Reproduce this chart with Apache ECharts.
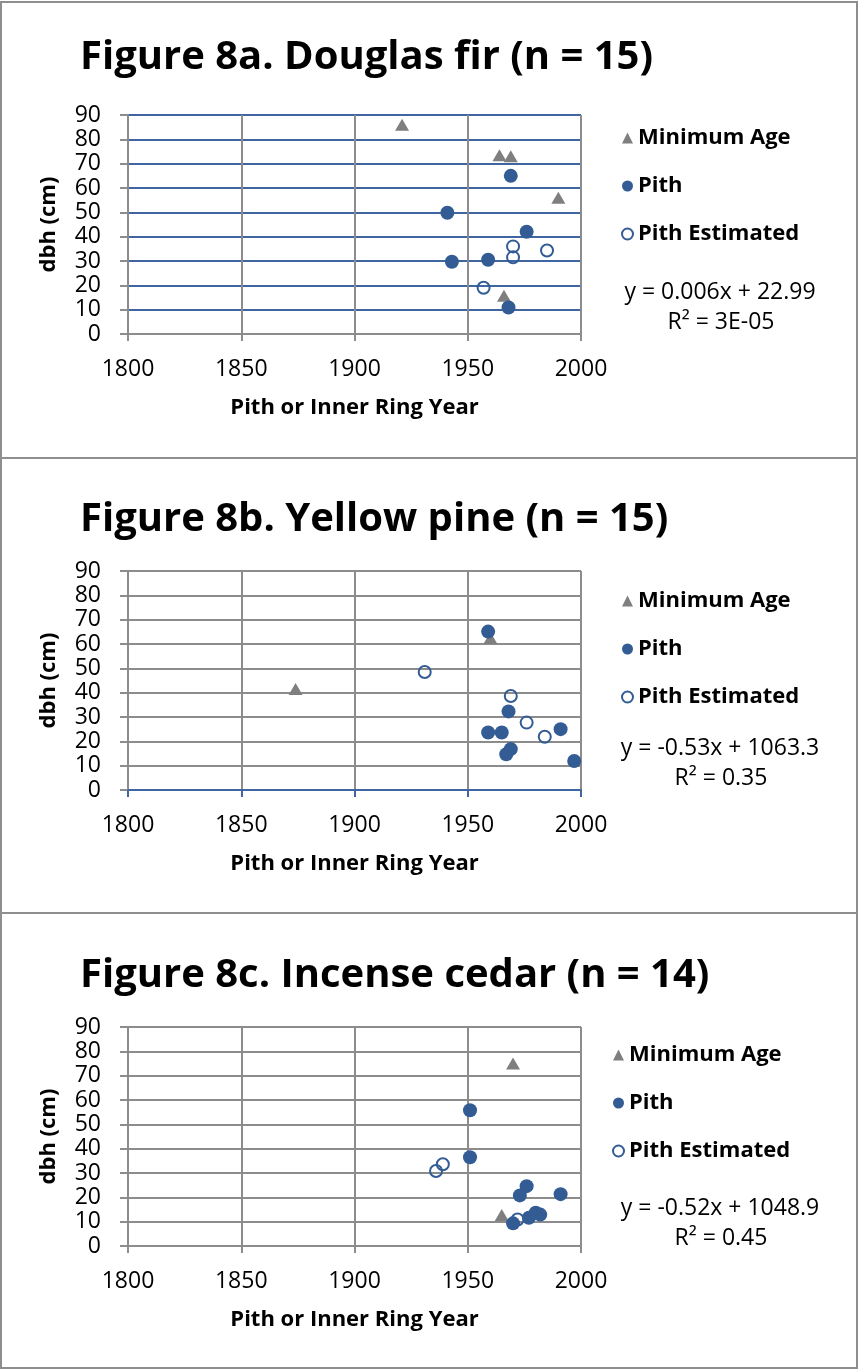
<!DOCTYPE html>
<html>
<head>
<meta charset="utf-8">
<script src="https://cdn.jsdelivr.net/npm/echarts@6/dist/echarts.min.js"></script>
<style>
html,body{margin:0;padding:0;background:#fff;}
#chart{width:859px;height:1370px;}
</style>
</head>
<body>
<div id="chart"></div>
<script>
// ---- Data ----
const titles = ['Figure 8a. Douglas fir (n = 15)', 'Figure 8b. Yellow pine (n = 15)', 'Figure 8c. Incense cedar (n = 14)'];
const equations = ['y = 0.006x + 22.99', 'y = -0.53x + 1063.3', 'y = -0.52x + 1048.9'];
const rSquared = ['R² = 3E-05', 'R² = 0.35', 'R² = 0.45'];
const seriesNames = ['Minimum Age', 'Pith', 'Pith Estimated'];
const xTicks = [1800, 1850, 1900, 1950, 2000];
const yTicks = [0, 10, 20, 30, 40, 50, 60, 70, 80, 90];
const xAxisTitle = 'Pith or Inner Ring Year';
const yAxisTitle = 'dbh (cm)';

// Douglas fir
const dfMinAgeYear = [1921, 1964, 1969, 1990, 1966];
const dfMinAgeDbh  = [86, 73.5, 73, 56, 15.7];
const dfPithYear   = [1969, 1941, 1976, 1943, 1959, 1968];
const dfPithDbh    = [65, 49.8, 42, 29.7, 30.5, 10.9];
const dfEstYear    = [1970, 1970, 1985, 1957];
const dfEstDbh     = [36, 31.5, 34.3, 19];

// Yellow pine
const ypMinAgeYear = [1874, 1960];
const ypMinAgeDbh  = [41.5, 62.5];
const ypPithYear   = [1959, 1968, 1959, 1965, 1991, 1967, 1969, 1997];
const ypPithDbh    = [65.1, 32.3, 23.6, 23.6, 25, 14.7, 16.8, 11.9];
const ypEstYear    = [1931, 1969, 1976, 1984];
const ypEstDbh     = [48.5, 38.6, 27.7, 21.9];

// Incense cedar
const icMinAgeYear = [1970, 1965];
const icMinAgeDbh  = [75, 12.7];
const icPithYear   = [1951, 1951, 1976, 1973, 1991, 1980, 1982, 1977, 1970];
const icPithDbh    = [55.8, 36.5, 24.6, 20.8, 21.3, 13.7, 12.9, 11.6, 9.3];
const icEstYear    = [1936, 1939, 1972];
const icEstDbh     = [30.8, 33.6, 10.9];

// ---- Build ----
const FONT = 'Open Sans';
const GRAY = '#8c8c8c';
const BLUE = '#3f66a0';
const MARK_BLUE = '#335c94';
const TRI_GRAY = '#7f7f7f';

const panels = [
  {top: 2,   bottom: 458,  gridTop: 115,  sets: [[dfMinAgeYear, dfMinAgeDbh], [dfPithYear, dfPithDbh], [dfEstYear, dfEstDbh]],
   hGrid: BLUE, xAxisLine: GRAY, titleY: 58, legendTop: 125, legendLeft: 621, eqY: 292},
  {top: 458, bottom: 913,  gridTop: 571,  sets: [[ypMinAgeYear, ypMinAgeDbh], [ypPithYear, ypPithDbh], [ypEstYear, ypEstDbh]],
   hGrid: GRAY, xAxisLine: BLUE, titleY: 520, legendTop: 588, legendLeft: 621, eqY: 748},
  {top: 913, bottom: 1368, gridTop: 1027, sets: [[icMinAgeYear, icMinAgeDbh], [icPithYear, icPithDbh], [icEstYear, icEstDbh]],
   hGrid: GRAY, xAxisLine: GRAY, titleY: 976, legendTop: 1042, legendLeft: 612, eqY: 1208}
];

const zip = (xs, ys) => xs.map((x, i) => [x, ys[i]]);

const grid = [], xAxis = [], yAxis = [], series = [], legend = [], title = [], graphic = [];

panels.forEach((p, i) => {
  grid.push({left: 128, top: p.gridTop, width: 453, height: 219, containLabel: false});
  xAxis.push({
    type: 'value', gridIndex: i, min: xTicks[0], max: xTicks[xTicks.length - 1], interval: 50,
    name: xAxisTitle, nameLocation: 'middle', nameGap: 63,
    nameTextStyle: {fontFamily: FONT, fontWeight: 'bold', fontSize: 22, color: '#000'},
    axisLine: {show: true, onZero: false, lineStyle: {color: p.xAxisLine, width: 2}},
    axisTick: {show: true, length: 7, lineStyle: {color: p.xAxisLine, width: 2}},
    axisLabel: {fontFamily: FONT, fontSize: 23, color: '#000', margin: 24, formatter: v => String(v)},
    splitLine: {show: true, lineStyle: {color: GRAY, width: 2}}
  });
  yAxis.push({
    type: 'value', gridIndex: i, min: yTicks[0], max: yTicks[yTicks.length - 1], interval: 10,
    name: yAxisTitle, nameLocation: 'middle', nameGap: 68, nameRotate: 90,
    nameTextStyle: {fontFamily: FONT, fontWeight: 'bold', fontSize: 22, color: '#000'},
    axisLine: {show: true, onZero: false, lineStyle: {color: GRAY, width: 2}},
    axisTick: {show: true, length: 8, lineStyle: {color: GRAY, width: 2}},
    axisLabel: {fontFamily: FONT, fontSize: 23, color: '#000', margin: 27},
    splitLine: {show: true, lineStyle: {color: p.hGrid, width: 2}}
  });
  // draw order: Minimum Age, Pith Estimated, Pith
  series.push({
    name: seriesNames[0], type: 'scatter', xAxisIndex: i, yAxisIndex: i,
    symbol: 'triangle', symbolSize: [14, 12],
    itemStyle: {color: TRI_GRAY, opacity: 1},
    data: zip(p.sets[0][0], p.sets[0][1])
  });
  series.push({
    name: seriesNames[2], type: 'scatter', xAxisIndex: i, yAxisIndex: i,
    symbol: 'circle', symbolSize: 12,
    itemStyle: {color: 'rgba(255,255,255,0)', borderColor: MARK_BLUE, borderWidth: 2, opacity: 1},
    data: zip(p.sets[2][0], p.sets[2][1])
  });
  series.push({
    name: seriesNames[1], type: 'scatter', xAxisIndex: i, yAxisIndex: i,
    symbol: 'circle', symbolSize: 14,
    itemStyle: {color: MARK_BLUE, opacity: 1},
    data: zip(p.sets[1][0], p.sets[1][1])
  });
  legend.push({
    orient: 'vertical', left: p.legendLeft, top: p.legendTop,
    data: [
      {name: seriesNames[0], icon: 'triangle'},
      {name: seriesNames[1], icon: 'circle'},
      {name: seriesNames[2], icon: 'circle'}
    ],
    itemWidth: 11, itemHeight: 11, itemGap: 22, padding: 0,
    selectedMode: false,
    textStyle: {fontFamily: FONT, fontWeight: 'bold', fontSize: 22, color: '#000', lineHeight: 26}
  });
  title.push({
    text: titles[i], left: 80, top: p.titleY - 24, padding: 0,
    textStyle: {fontFamily: FONT, fontWeight: 'bold', fontSize: 40, color: '#000', lineHeight: 48}
  });
  graphic.push({
    type: 'rect', shape: {x: 1, y: p.top, width: 856, height: p.bottom - p.top},
    style: {fill: 'none', stroke: '#8e8e8e', lineWidth: 2}, silent: true, z: -1
  });
  graphic.push({
    type: 'text', x: 720, y: p.eqY,
    style: {text: equations[i], fontFamily: FONT, fontSize: 23, fill: '#000', textAlign: 'center', textVerticalAlign: 'middle'}
  });
  graphic.push({
    type: 'text', x: 721, y: p.eqY + 30,
    style: {text: rSquared[i], fontFamily: FONT, fontSize: 23, fill: '#000', textAlign: 'center', textVerticalAlign: 'middle'}
  });
});

const chart = echarts.init(document.getElementById('chart'), null, {renderer: 'canvas'});
chart.setOption({
  animation: false,
  backgroundColor: '#fff',
  title, grid, xAxis, yAxis, series, legend, graphic
});
</script>
</body>
</html>
